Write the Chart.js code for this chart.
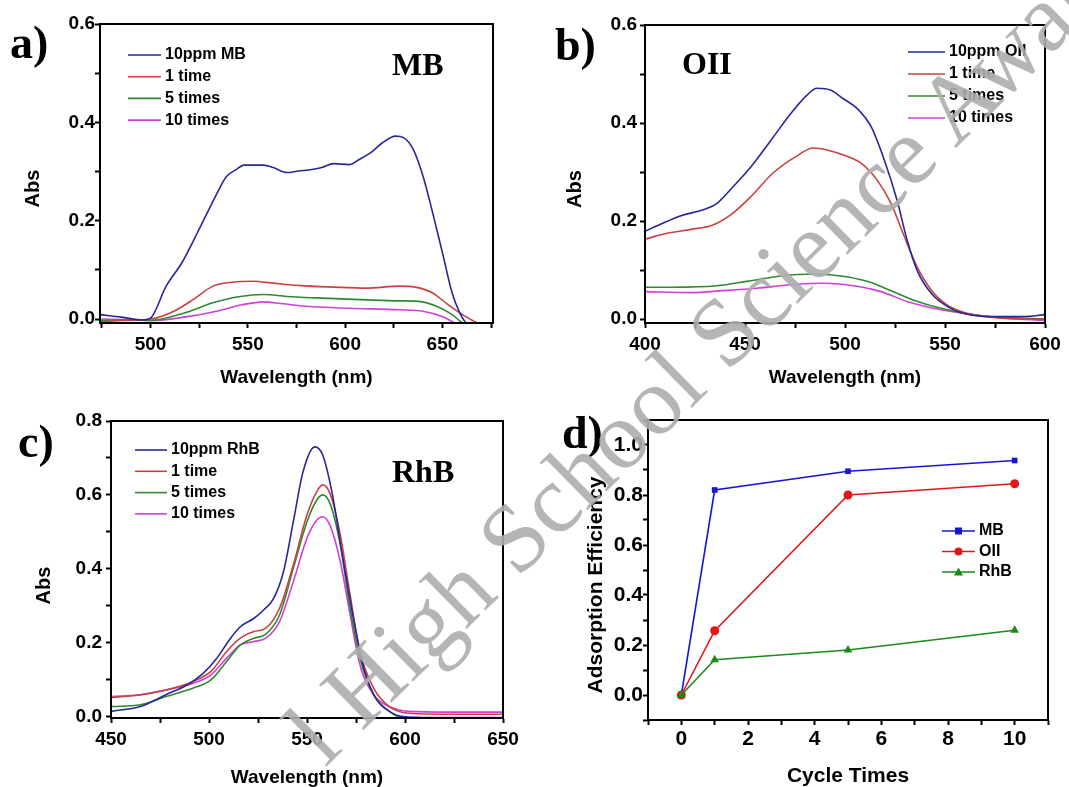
<!DOCTYPE html>
<html>
<head>
<meta charset="utf-8">
<script src="https://cdn.jsdelivr.net/npm/chart.js@4.4.1/dist/chart.umd.min.js"></script>
<style>
    html, body { margin: 0; padding: 0; background: #fff; }
    #wrap { position: relative; width: 1069px; height: 787px; overflow: hidden; }
    .panel { position: absolute; }
    #mark { position: absolute; left: 0; top: 0; pointer-events: none; }
</style>
</head>
<body>
<div id="wrap">
    <div class="panel" style="left:0;top:0;width:535px;height:395px"><canvas id="chartA"></canvas></div>
    <div class="panel" style="left:535px;top:0;width:534px;height:395px"><canvas id="chartB"></canvas></div>
    <div class="panel" style="left:0;top:395px;width:535px;height:392px"><canvas id="chartC"></canvas></div>
    <div class="panel" style="left:535px;top:395px;width:534px;height:392px"><canvas id="chartD"></canvas></div>
    <svg id="mark" width="1069" height="787">
        <text transform="translate(325,768) rotate(-44.5)" font-family="Liberation Serif, Times New Roman, serif"
              font-size="97" fill="#adadad" fill-opacity="0.9">l High School Science Award</text>
    </svg>
</div>
<script>
// a) MB spectra
const mbStockX = [474, 485, 496, 500, 508, 516, 524, 530, 536, 539, 544, 548, 558, 563, 570, 576, 583, 588, 594, 602, 607, 614, 619, 626, 630, 635, 640, 645, 650, 655, 659, 662, 665];
const mbStockY = [0.009, 0.004, -0.002, 0.002, 0.067, 0.114, 0.175, 0.223, 0.27, 0.29, 0.304, 0.313, 0.313, 0.308, 0.298, 0.301, 0.304, 0.308, 0.316, 0.314, 0.324, 0.341, 0.358, 0.372, 0.369, 0.345, 0.291, 0.216, 0.135, 0.053, 0.012, -0.008, -0.02];
const mb1X = [474, 485, 500, 512, 522, 532, 542, 553, 563, 577, 594, 611, 628, 636, 645, 653, 662, 668, 672];
const mb1Y = [-0.006, -0.003, 0.0, 0.016, 0.04, 0.067, 0.075, 0.077, 0.073, 0.068, 0.065, 0.063, 0.067, 0.065, 0.053, 0.029, 0.005, -0.008, -0.015];
const mb5X = [474, 490, 500, 517, 532, 546, 558, 570, 585, 611, 628, 638, 647, 655, 660, 664];
const mb5Y = [-0.003, -0.002, -0.003, 0.012, 0.033, 0.046, 0.05, 0.046, 0.043, 0.039, 0.037, 0.036, 0.026, 0.009, -0.007, -0.015];
const mb10X = [474, 490, 500, 519, 534, 547, 558, 568, 580, 602, 628, 640, 650, 656, 660];
const mb10Y = [0.0, -0.001, -0.003, 0.005, 0.016, 0.029, 0.035, 0.031, 0.026, 0.022, 0.019, 0.016, 0.005, -0.007, -0.015];

// b) OII spectra
const oiiStockX = [400, 408, 418, 429, 436, 444, 453, 463, 473, 481, 486, 493, 499, 506, 513, 519, 526, 531, 536, 543, 551, 559, 573, 589, 600];
const oiiStockY = [0.179, 0.194, 0.211, 0.223, 0.236, 0.27, 0.311, 0.365, 0.42, 0.457, 0.471, 0.467, 0.45, 0.43, 0.393, 0.332, 0.243, 0.162, 0.1, 0.053, 0.026, 0.012, 0.005, 0.005, 0.009];
const oii1X = [400, 411, 423, 434, 443, 453, 464, 476, 484, 491, 501, 508, 516, 523, 529, 536, 543, 551, 561, 578, 600];
const oii1Y = [0.163, 0.175, 0.183, 0.192, 0.213, 0.25, 0.298, 0.333, 0.349, 0.345, 0.332, 0.318, 0.284, 0.236, 0.175, 0.107, 0.06, 0.029, 0.012, 0.002, 0.0];
const oii5X = [400, 414, 436, 451, 468, 484, 498, 511, 523, 534, 548, 564, 580, 600];
const oii5Y = [0.065, 0.065, 0.068, 0.077, 0.088, 0.092, 0.088, 0.077, 0.058, 0.039, 0.022, 0.009, 0.003, 0.0];
const oii10X = [400, 423, 439, 456, 473, 489, 506, 518, 531, 548, 564, 580, 600];
const oii10Y = [0.056, 0.054, 0.058, 0.063, 0.07, 0.073, 0.067, 0.056, 0.036, 0.019, 0.009, 0.002, -0.003];

// c) RhB spectra
const rhbStockX = [450, 465, 478, 489, 497, 504, 511, 516, 523, 528, 533, 538, 543, 548, 554, 558, 563, 568, 574, 579, 585, 592, 599, 614, 650];
const rhbStockY = [0.014, 0.027, 0.059, 0.086, 0.117, 0.158, 0.212, 0.243, 0.266, 0.289, 0.32, 0.392, 0.527, 0.663, 0.73, 0.708, 0.6, 0.437, 0.257, 0.131, 0.05, 0.014, 0.0, -0.003, -0.003];
const rhb1X = [450, 465, 478, 492, 501, 509, 516, 523, 529, 536, 543, 550, 555, 558, 562, 567, 572, 577, 584, 592, 602, 623, 650];
const rhb1Y = [0.051, 0.059, 0.072, 0.095, 0.122, 0.176, 0.212, 0.23, 0.239, 0.293, 0.41, 0.546, 0.609, 0.627, 0.6, 0.491, 0.329, 0.176, 0.077, 0.027, 0.009, 0.006, 0.006];
const rhb5X = [450, 465, 478, 492, 501, 509, 516, 523, 529, 536, 543, 550, 555, 558, 562, 567, 572, 577, 584, 592, 599, 610];
const rhb5Y = [0.027, 0.032, 0.054, 0.077, 0.099, 0.149, 0.194, 0.212, 0.223, 0.275, 0.401, 0.527, 0.586, 0.6, 0.573, 0.464, 0.293, 0.158, 0.059, 0.014, -0.005, -0.01];
const rhb10X = [450, 465, 478, 492, 501, 509, 516, 523, 529, 536, 543, 550, 555, 558, 562, 567, 572, 577, 584, 592, 602, 623, 650];
const rhb10Y = [0.054, 0.059, 0.072, 0.09, 0.113, 0.158, 0.194, 0.203, 0.212, 0.257, 0.365, 0.483, 0.532, 0.541, 0.514, 0.419, 0.275, 0.14, 0.059, 0.027, 0.014, 0.012, 0.012];

// d) adsorption efficiency vs cycle
const cycleTimes = [0, 1, 5, 10];
const effMB = [0, 0.82, 0.895, 0.938];
const effOII = [0, 0.257, 0.80, 0.845];
const effRhB = [0, 0.141, 0.18, 0.259];

const SPEC_COLORS = ['#27279b', '#cc4040', '#2f8a2f', '#d040d8'];
const SANS = '"Liberation Sans", Arial, sans-serif';
const SERIF = '"Liberation Serif", "Times New Roman", serif';

function toPoints(xs, ys) {
    return xs.map((x, i) => ({ x, y: ys[i] }));
}

function spectrumSet(label, xs, ys, color) {
    return {
        label,
        data: toPoints(xs, ys),
        borderColor: color,
        backgroundColor: color,
        borderWidth: 1.6,
        pointRadius: 0,
        cubicInterpolationMode: 'monotone'
    };
}

// frame, inside legend, labels and y title
const panelDecor = {
    id: 'panelDecor',
    afterDatasetsDraw(chart, args, opts) {
        const ctx = chart.ctx;
        const area = chart.chartArea;
        ctx.save();
        ctx.strokeStyle = '#000';
        ctx.lineWidth = 2;
        ctx.strokeRect(area.left, area.top, area.right - area.left, area.bottom - area.top);

        const lg = opts.legend;
        ctx.font = `bold ${lg.size}px ${SANS}`;
        ctx.textBaseline = 'middle';
        ctx.textAlign = 'left';
        chart.data.datasets.forEach((ds, i) => {
            const x = area.left + lg.x;
            const y = area.top + lg.y + i * lg.gap;
            ctx.strokeStyle = ds.borderColor;
            ctx.lineWidth = 1.6;
            ctx.beginPath();
            ctx.moveTo(x, y);
            ctx.lineTo(x + lg.len, y);
            ctx.stroke();
            if (lg.markers) {
                ctx.fillStyle = ds.borderColor;
                const mx = x + lg.len / 2;
                ctx.beginPath();
                if (ds.pointStyle === 'rect') ctx.rect(mx - 3.5, y - 3.5, 7, 7);
                else if (ds.pointStyle === 'triangle') { ctx.moveTo(mx, y - 4.5); ctx.lineTo(mx + 4.5, y + 3.5); ctx.lineTo(mx - 4.5, y + 3.5); ctx.closePath(); }
                else ctx.arc(mx, y, 4, 0, Math.PI * 2);
                ctx.fill();
            }
            ctx.fillStyle = '#000';
            ctx.fillText(ds.label, x + lg.len + 4, y);
        });

        ctx.fillStyle = '#000';
        ctx.textBaseline = 'alphabetic';
        ctx.font = `bold 46px ${SERIF}`;
        ctx.fillText(opts.letter.text, opts.letter.x, opts.letter.y);
        if (opts.tag) {
            ctx.font = `bold 32px ${SERIF}`;
            ctx.fillText(opts.tag.text, opts.tag.x, opts.tag.y);
        }

        const yt = opts.yTitle;
        ctx.font = `bold ${yt.size}px ${SANS}`;
        ctx.textAlign = 'center';
        ctx.textBaseline = 'middle';
        ctx.translate(yt.x, (area.top + area.bottom) / 2 + yt.dy);
        ctx.rotate(-Math.PI / 2);
        ctx.fillText(yt.text, 0, 0);
        ctx.restore();
    }
};

function axisX(min, max, step, major, opt) {
    return {
        type: 'linear',
        min, max,
        afterFit(scale) { scale.height = opt.height; },
        border: { color: '#000', width: 2 },
        grid: { drawOnChartArea: false, drawTicks: true, tickLength: 5, tickWidth: 2, tickColor: '#000' },
        ticks: {
            stepSize: step,
            includeBounds: false,
            autoSkip: false,
            maxRotation: 0,
            padding: opt.pad,
            color: '#000',
            font: { family: SANS, weight: 'bold', size: opt.size },
            callback(value) {
                const r = Math.round(value / step);
                return r % major === 0 ? String(Math.round(value)) : '';
            }
        },
        title: {
            display: true,
            text: opt.title,
            color: '#000',
            font: { family: SANS, weight: 'bold', size: opt.titleSize, lineHeight: 1 },
            padding: { top: 0, bottom: opt.titlePad }
        }
    };
}

function axisY(min, max, step, opt) {
    return {
        type: 'linear',
        min, max,
        afterFit(scale) { scale.width = opt.width; },
        border: { color: '#000', width: 2 },
        grid: { drawOnChartArea: false, drawTicks: true, tickLength: 5, tickWidth: 2, tickColor: '#000' },
        ticks: {
            stepSize: step,
            includeBounds: false,
            autoSkip: false,
            padding: opt.pad,
            color: '#000',
            font: { family: SANS, weight: 'bold', size: opt.size },
            callback(value) {
                const r = Math.round(value * 10);
                return r % 2 === 0 ? (r / 10).toFixed(1) : '';
            }
        }
    };
}

function renderSpectrum(canvasId, datasets, cfg) {
    return new Chart(document.getElementById(canvasId), {
        type: 'line',
        data: { datasets },
        options: {
            responsive: true,
            maintainAspectRatio: false,
            animation: false,
            layout: { padding: { top: cfg.top, right: cfg.right, bottom: 0, left: 0 } },
            scales: {
                x: axisX(cfg.xMin, cfg.xMax, cfg.xStep, 2, { height: cfg.xHeight, pad: 5, size: 19, title: 'Wavelength (nm)', titleSize: 19, titlePad: cfg.xTitlePad }),
                y: axisY(cfg.yMin, cfg.yMax, 0.1, { width: cfg.yWidth, pad: cfg.yPad, size: 19 })
            },
            plugins: {
                legend: { display: false },
                tooltip: { enabled: false },
                panelDecor: cfg.decor
            }
        },
        plugins: [panelDecor]
    });
}

Chart.defaults.font.family = SANS;

renderSpectrum('chartA', [
    spectrumSet('10ppm MB', mbStockX, mbStockY, SPEC_COLORS[0]),
    spectrumSet('1 time', mb1X, mb1Y, SPEC_COLORS[1]),
    spectrumSet('5 times', mb5X, mb5Y, SPEC_COLORS[2]),
    spectrumSet('10 times', mb10X, mb10Y, SPEC_COLORS[3])
], {
    xMin: 474, xMax: 676, xStep: 25, yMin: -0.008, yMax: 0.6,
    top: 24, right: 42, xHeight: 72, yWidth: 100, yPad: 0, xTitlePad: 8,
    decor: {
        legend: { x: 28, y: 31, gap: 21.7, len: 33, size: 16 },
        letter: { text: 'a)', x: 10, y: 58 },
        tag: { text: 'MB', x: 392, y: 75 },
        yTitle: { text: 'Abs', x: 33, dy: 15, size: 20 }
    }
});

renderSpectrum('chartB', [
    spectrumSet('10ppm OII', oiiStockX, oiiStockY, SPEC_COLORS[0]),
    spectrumSet('1 time', oii1X, oii1Y, SPEC_COLORS[1]),
    spectrumSet('5 times', oii5X, oii5Y, SPEC_COLORS[2]),
    spectrumSet('10 times', oii10X, oii10Y, SPEC_COLORS[3])
], {
    xMin: 400, xMax: 600, xStep: 25, yMin: -0.008, yMax: 0.6,
    top: 25, right: 24, xHeight: 72, yWidth: 110, yPad: 3, xTitlePad: 8,
    decor: {
        legend: { x: 263, y: 27, gap: 22, len: 37, size: 16 },
        letter: { text: 'b)', x: 20, y: 60 },
        tag: { text: 'OII', x: 147, y: 74 },
        yTitle: { text: 'Abs', x: 40, dy: 15, size: 20 }
    }
});

renderSpectrum('chartC', [
    spectrumSet('10ppm RhB', rhbStockX, rhbStockY, SPEC_COLORS[0]),
    spectrumSet('1 time', rhb1X, rhb1Y, SPEC_COLORS[1]),
    spectrumSet('5 times', rhb5X, rhb5Y, SPEC_COLORS[2]),
    spectrumSet('10 times', rhb10X, rhb10Y, SPEC_COLORS[3])
], {
    xMin: 450, xMax: 650, xStep: 25, yMin: -0.004, yMax: 0.8,
    top: 26, right: 32, xHeight: 69, yWidth: 111, yPad: 4, xTitlePad: 0,
    decor: {
        legend: { x: 24, y: 29, gap: 21.3, len: 32, size: 16 },
        letter: { text: 'c)', x: 18, y: 62 },
        tag: { text: 'RhB', x: 392, y: 87 },
        yTitle: { text: 'Abs', x: 44, dy: 16, size: 20 }
    }
});

const D_COLORS = ['#1616d8', '#e01818', '#1a8a1a'];
new Chart(document.getElementById('chartD'), {
    type: 'line',
    data: {
        datasets: [
            { label: 'MB', data: toPoints(cycleTimes, effMB), borderColor: D_COLORS[0], backgroundColor: D_COLORS[0], pointStyle: 'rect', pointRadius: 4, order: 3 },
            { label: 'OII', data: toPoints(cycleTimes, effOII), borderColor: D_COLORS[1], backgroundColor: D_COLORS[1], pointStyle: 'circle', pointRadius: 4.5, order: 2 },
            { label: 'RhB', data: toPoints(cycleTimes, effRhB), borderColor: D_COLORS[2], backgroundColor: D_COLORS[2], pointStyle: 'triangle', pointRadius: 5, order: 1 }
        ].map(ds => Object.assign(ds, { borderWidth: 1.6, tension: 0, pointBorderWidth: 0 }))
    },
    options: {
        responsive: true,
        maintainAspectRatio: false,
        animation: false,
        layout: { padding: { top: 25, right: 21, bottom: 0, left: 0 } },
        scales: {
            x: axisX(-1, 11, 1, 2, { height: 67, pad: 2, size: 21, title: 'Cycle Times', titleSize: 21, titlePad: 0 }),
            y: axisY(-0.1, 1.1, 0.1, { width: 113, pad: 0, size: 21 })
        },
        plugins: {
            legend: { display: false },
            tooltip: { enabled: false },
            panelDecor: {
                legend: { x: 294, y: 111, gap: 20.5, len: 33, size: 16, markers: true },
                letter: { text: 'd)', x: 27, y: 53 },
                yTitle: { text: 'Adsorption Efficiency', x: 61, dy: 15, size: 21 }
            }
        }
    },
    plugins: [panelDecor]
});
</script>
</body>
</html>
